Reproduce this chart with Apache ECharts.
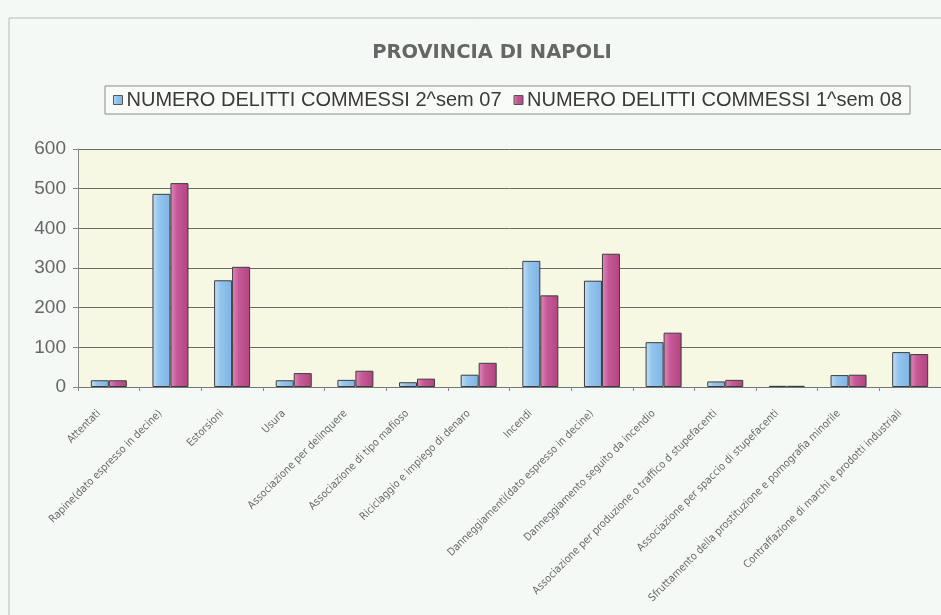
<!DOCTYPE html>
<html>
<head>
<meta charset="utf-8">
<script src="https://cdn.jsdelivr.net/npm/echarts@6/dist/echarts.min.js"></script>
<style>
html,body{margin:0;padding:0;background:#f4f9f6;}
#c{width:941px;height:615px;}
</style>
</head>
<body>
<div id="c"></div>
<script>
const categories = [
  "Attentati",
  "Rapine(dato espresso in decine)",
  "Estorsioni",
  "Usura",
  "Associazione per delinquere",
  "Associazione di tipo mafioso",
  "Riciclaggio e impiego di denaro",
  "Incendi",
  "Danneggiamenti(dato espresso in decine)",
  "Danneggiamento seguito da incendio",
  "Associazione per produzione o traffico d stupefacenti",
  "Associazione per spaccio di stupefacenti",
  "Sfruttamento della prostituzione e pornografia minorile",
  "Contraffazione di marchi e prodotti industriali"
];
const seriesNames = ["NUMERO DELITTI COMMESSI 2^sem 07", "NUMERO DELITTI COMMESSI 1^sem 08"];
const sem2_07 = [17, 487, 269, 17, 18, 12, 31, 318, 268, 113, 14, 3, 30, 88];
const sem1_08 = [17, 514, 303, 35, 41, 21, 61, 231, 336, 137, 18, 3, 31, 83];
const yTicks = [0, 100, 200, 300, 400, 500, 600];

const chart = echarts.init(document.getElementById('c'), null, {renderer: 'canvas'});
const blueGrad = new echarts.graphic.LinearGradient(0, 0, 1, 0, [
  {offset: 0, color: '#c4e1f7'}, {offset: 0.35, color: '#93c5ee'}, {offset: 1, color: '#7fb3e4'}
]);
const pinkGrad = new echarts.graphic.LinearGradient(0, 0, 1, 0, [
  {offset: 0, color: '#e08abb'}, {offset: 0.35, color: '#c65a98'}, {offset: 1, color: '#b2457f'}
]);
chart.setOption({
  backgroundColor: '#f4f9f6',
  animation: false,
  graphic: [
    {type: 'rect', shape: {x: 9, y: 18, width: 960, height: 640}, style: {fill: 'none', stroke: '#b8bcb8', lineWidth: 1}, z: -10}
  ],
  title: {
    text: 'PROVINCIA DI NAPOLI',
    left: 487, top: 38, textAlign: 'center',
    textStyle: {fontFamily: 'DejaVu Sans, sans-serif', fontSize: 19.5, fontWeight: 'bold', color: '#666666'}
  },
  legend: {
    data: seriesNames,
    left: 105, top: 86,
    itemWidth: 9, itemHeight: 9, itemGap: 12,
    padding: [4, 8, 4, 8],
    borderColor: '#8a8a8a', borderWidth: 1,
    backgroundColor: '#f8fbf8',
    textStyle: {fontFamily: 'Liberation Sans, Arial, sans-serif', fontSize: 20, color: '#3a3a3a', padding: [0, 0, 0, -1]},
    icon: 'rect',
    itemStyle: {borderColor: '#555', borderWidth: 1}
  },
  grid: {left: 78, right: -2, top: 149, bottom: 228, show: true, backgroundColor: '#f6f8e4', borderWidth: 0},
  xAxis: {
    type: 'category',
    data: categories,
    boundaryGap: true,
    axisLine: {lineStyle: {color: '#777', width: 1}},
    axisTick: {show: true, length: 4, lineStyle: {color: '#888'}},
    axisLabel: {
      interval: 0, rotate: 45, margin: 15,
      fontFamily: 'Liberation Sans Narrow, DejaVu Sans Condensed, sans-serif',
      fontSize: 10.7, color: '#6a6a6a',
      padding: [0, 14, 0, 0]
    }
  },
  yAxis: {
    type: 'value', min: 0, max: 600, interval: 100,
    axisLine: {show: true, lineStyle: {color: '#888'}},
    axisTick: {show: true, length: 5, lineStyle: {color: '#888'}},
    axisLabel: {
      margin: 12, fontFamily: 'Liberation Sans, Arial, sans-serif', fontSize: 19, color: '#666666',
      formatter: v => yTicks.includes(v) ? String(v) : ''
    },
    splitLine: {show: true, lineStyle: {color: '#6a6a6a', width: 1}}
  },
  series: [
    {
      name: seriesNames[0], type: 'bar', data: sem2_07,
      barWidth: 18, barGap: '0%',
      itemStyle: {color: blueGrad, borderColor: '#3c3c3c', borderWidth: 1}
    },
    {
      name: seriesNames[1], type: 'bar', data: sem1_08,
      barWidth: 18, barGap: '0%',
      itemStyle: {color: pinkGrad, borderColor: '#3c3c3c', borderWidth: 1}
    }
  ]
});
</script>
</body>
</html>
